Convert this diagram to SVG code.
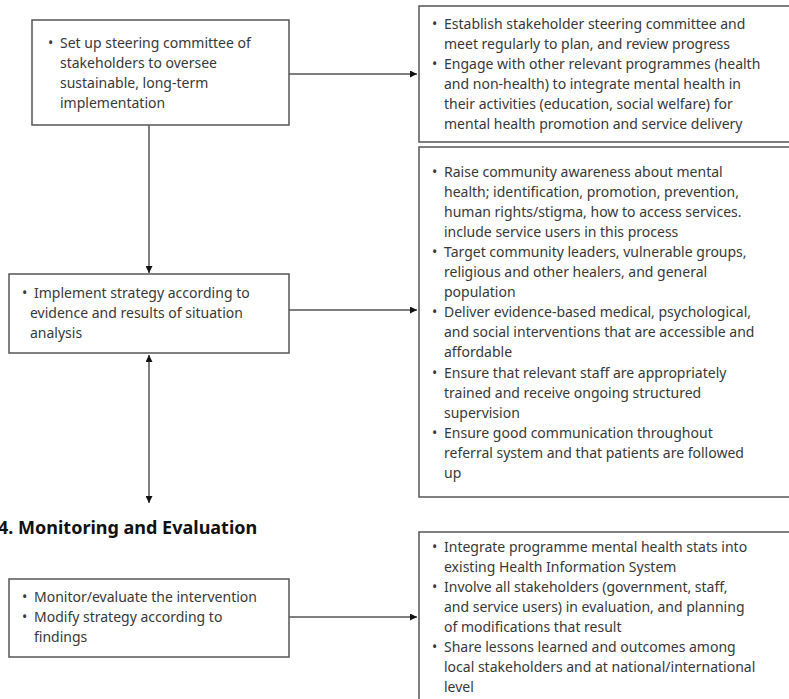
<svg xmlns="http://www.w3.org/2000/svg" width="789" height="699" viewBox="0 0 789 699">
<defs>
<style>
.box{fill:#fff;stroke:#555;stroke-width:1.5}
.t{font-family:"Noto Sans","Open Sans",sans-serif;font-size:14px;fill:#383838}
.h{font-family:"Noto Sans","Open Sans",sans-serif;font-size:18px;font-weight:bold;fill:#111}
.c{fill:none;stroke:#555;stroke-width:1.5}
</style>
<marker id="ah" viewBox="0 0 10 10" refX="10" refY="5" markerWidth="7" markerHeight="7" markerUnits="userSpaceOnUse" orient="auto-start-reverse"><path d="M0,0 L10,5 L0,10 z" fill="#111"/></marker>
</defs>
<rect width="789" height="699" fill="#fff"/>
<g id="connectors">
<line class="c" x1="289" y1="74" x2="417" y2="74" marker-end="url(#ah)"/>
<line class="c" x1="149" y1="125" x2="149" y2="273" marker-end="url(#ah)"/>
<line class="c" x1="289" y1="310" x2="417" y2="310" marker-end="url(#ah)"/>
<line class="c" x1="149" y1="355" x2="149" y2="503" marker-start="url(#ah)" marker-end="url(#ah)"/>
<line class="c" x1="289" y1="617" x2="417" y2="617" marker-end="url(#ah)"/>
</g>
<g id="n1">
<rect class="box" x="32" y="20" width="257" height="105"/>
<text class="t"><tspan x="48" y="48">•</tspan><tspan x="60" y="48">Set up steering committee of</tspan><tspan x="60" y="68">stakeholders to oversee</tspan><tspan x="60" y="88">sustainable, long-term</tspan><tspan x="60" y="108">implementation</tspan></text>
</g>
<g id="r1">
<rect class="box" x="419" y="6" width="390" height="136"/>
<text class="t"><tspan x="432" y="29">•</tspan><tspan x="444" y="29">Establish stakeholder steering committee and</tspan><tspan x="444" y="49">meet regularly to plan, and review progress</tspan><tspan x="432" y="69">•</tspan><tspan x="444" y="69">Engage with other relevant programmes (health</tspan><tspan x="444" y="89">and non-health) to integrate mental health in</tspan><tspan x="444" y="109">their activities (education, social welfare) for</tspan><tspan x="444" y="129">mental health promotion and service delivery</tspan></text>
</g>
<g id="n2">
<rect class="box" x="9" y="274" width="280" height="79"/>
<text class="t"><tspan x="22" y="298">•</tspan><tspan x="34" y="298">Implement strategy according to</tspan><tspan x="30" y="318">evidence and results of situation</tspan><tspan x="30" y="338">analysis</tspan></text>
</g>
<g id="r2">
<rect class="box" x="419" y="147" width="390" height="350"/>
<text class="t"><tspan x="432" y="177">•</tspan><tspan x="444" y="177">Raise community awareness about mental</tspan><tspan x="444" y="197">health; identification, promotion, prevention,</tspan><tspan x="444" y="217">human rights/stigma, how to access services.</tspan><tspan x="444" y="237">include service users in this process</tspan><tspan x="432" y="257">•</tspan><tspan x="444" y="257">Target community leaders, vulnerable groups,</tspan><tspan x="444" y="277">religious and other healers, and general</tspan><tspan x="444" y="297">population</tspan><tspan x="432" y="317">•</tspan><tspan x="444" y="317">Deliver evidence-based medical, psychological,</tspan><tspan x="444" y="337">and social interventions that are accessible and</tspan><tspan x="444" y="357">affordable</tspan><tspan x="432" y="378">•</tspan><tspan x="444" y="378">Ensure that relevant staff are appropriately</tspan><tspan x="444" y="398">trained and receive ongoing structured</tspan><tspan x="444" y="418">supervision</tspan><tspan x="432" y="438">•</tspan><tspan x="444" y="438">Ensure good communication throughout</tspan><tspan x="444" y="458">referral system and that patients are followed</tspan><tspan x="444" y="478">up</tspan></text>
</g>
<g id="heading">
<text class="h" x="-2" y="534">4. Monitoring and Evaluation</text>
</g>
<g id="n3">
<rect class="box" x="9" y="579" width="280" height="78"/>
<text class="t"><tspan x="22" y="602">•</tspan><tspan x="34" y="602">Monitor/evaluate the intervention</tspan><tspan x="22" y="622">•</tspan><tspan x="34" y="622">Modify strategy according to</tspan><tspan x="34" y="642">findings</tspan></text>
</g>
<g id="r3">
<rect class="box" x="419" y="532" width="390" height="190"/>
<text class="t"><tspan x="432" y="552">•</tspan><tspan x="444" y="552">Integrate programme mental health stats into</tspan><tspan x="444" y="572">existing Health Information System</tspan><tspan x="432" y="592">•</tspan><tspan x="444" y="592">Involve all stakeholders (government, staff,</tspan><tspan x="444" y="612">and service users) in evaluation, and planning</tspan><tspan x="444" y="632">of modifications that result</tspan><tspan x="432" y="652">•</tspan><tspan x="444" y="652">Share lessons learned and outcomes among</tspan><tspan x="444" y="672">local stakeholders and at national/international</tspan><tspan x="444" y="692">level</tspan></text>
</g>
</svg>
